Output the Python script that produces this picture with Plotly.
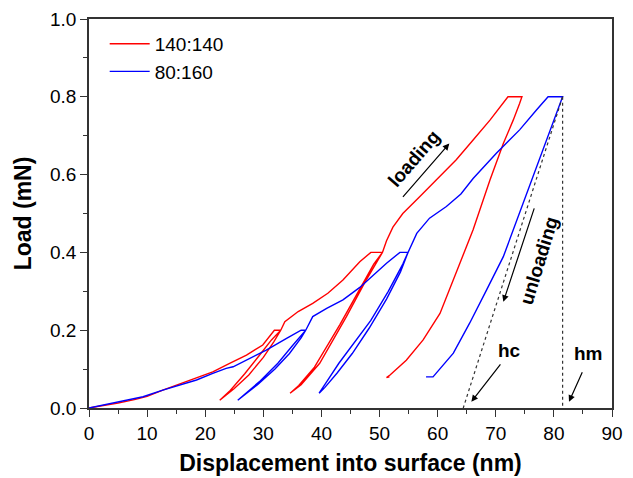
import plotly.graph_objects as go

# ---- data ----
red_name = "140:140"
red_x = [0, 2, 5, 8, 10, 12.7, 15.6, 18.5, 21.3, 24.2, 27.1, 29.9, 31.9,
         33.0, 31.8, 30.0, 27.5, 25.0, 22.5,
         24.3, 26.8, 29.3, 31.4, 33.0,
         33.7, 36.0, 38.5, 41.1, 43.7, 46.6, 48.5,
         50.5, 47.7, 44.3, 39.7, 36.5, 34.6,
         36.1, 38.8, 43.2, 46.6, 49.0, 50.5,
         51.2, 52.3, 54.0, 56.9, 59.8, 63.2, 66.1, 69.0, 72.1,
         74.5, 74.1, 73.0, 71.3, 69.0, 66.1, 63.2, 60.4, 57.5, 54.6, 51.8, 51.2, 51.7]
red_y = [0, 0.005, 0.013, 0.022, 0.03, 0.046, 0.062, 0.076, 0.093, 0.115, 0.136, 0.162, 0.2,
         0.2, 0.17, 0.13, 0.085, 0.05, 0.02,
         0.045, 0.088, 0.135, 0.175, 0.2,
         0.222, 0.248, 0.269, 0.295, 0.329, 0.376, 0.4,
         0.4, 0.329, 0.235, 0.115, 0.06, 0.038,
         0.058, 0.105, 0.215, 0.305, 0.37, 0.4,
         0.43, 0.465, 0.5, 0.543, 0.586, 0.638, 0.689, 0.74, 0.8,
         0.8, 0.783, 0.74, 0.68, 0.586, 0.458, 0.346, 0.243, 0.175, 0.123, 0.085, 0.078, 0.08]

blue_name = "80:160"
blue_x = [0, 2, 4.7, 9.3, 12.7, 15.6, 18.5, 21.3, 23.6, 24.8, 27.1, 30.5, 34.0, 36.5,
          37.3, 36.5, 34.5, 32.0, 29.0, 26.8, 25.6,
          27.0, 29.5, 32.5, 35.0, 36.7, 37.3,
          38.5, 40.9, 43.7, 46.6, 48.3, 51.2, 53.5,
          54.9, 54.0, 51.5, 48.5, 46.0, 43.0, 41.0, 39.6,
          40.6, 42.7, 45.3, 48.2, 51.2, 53.6, 54.9,
          56.4, 58.6, 61.5, 64.0, 66.1, 70.1, 74.1, 77.0, 79.0,
          81.5, 80.0, 78.5, 77.0, 75.5, 74.1, 71.3, 68.4, 65.5, 62.7, 59.2, 58.0]
blue_y = [0, 0.006, 0.016, 0.029, 0.046, 0.059, 0.072, 0.089, 0.102, 0.106, 0.123, 0.149, 0.179, 0.2,
          0.2, 0.18, 0.14, 0.1, 0.06, 0.035, 0.02,
          0.038, 0.07, 0.115, 0.16, 0.19, 0.2,
          0.235, 0.256, 0.278, 0.31, 0.333, 0.372, 0.4,
          0.4, 0.37, 0.3, 0.225, 0.175, 0.115, 0.07, 0.038,
          0.053, 0.09, 0.14, 0.205, 0.28, 0.35, 0.4,
          0.449, 0.488, 0.518, 0.55, 0.59, 0.655, 0.715, 0.766, 0.8,
          0.8, 0.74, 0.68, 0.62, 0.56, 0.5, 0.389, 0.303, 0.218, 0.141, 0.08, 0.08]

tangent_x = [81.5, 64.4]
tangent_y = [0.8, 0.0]
hm_line_x = [81.5, 81.5]
hm_line_y = [0.8, 0.0]

x_ticks = [0, 10, 20, 30, 40, 50, 60, 70, 80, 90]
y_ticks = [0.0, 0.2, 0.4, 0.6, 0.8, 1.0]

FONT = "Liberation Sans, Arial, sans-serif"

fig = go.Figure()
fig.add_trace(go.Scatter(x=red_x, y=red_y, mode="lines", name=red_name,
                         line=dict(color="#ff0000", width=1.4)))
fig.add_trace(go.Scatter(x=blue_x, y=blue_y, mode="lines", name=blue_name,
                         line=dict(color="#0000ff", width=1.4)))
for lx, ly in [(tangent_x, tangent_y), (hm_line_x, hm_line_y)]:
    fig.add_trace(go.Scatter(x=lx, y=ly, mode="lines", showlegend=False,
                             line=dict(color="#333333", width=1.2, dash="dot")))

ann_font = dict(family=FONT, size=19, color="black")
# arrows: (head_x, head_y, tail_x, tail_y)
arrows = [(62.0, 0.680, 53.8, 0.539),
          (71.3, 0.273, 76.7, 0.517),
          (65.8, 0.016, 71.0, 0.116),
          (82.6, 0.016, 85.0, 0.096)]
for hx, hy, tx, ty in arrows:
    fig.add_annotation(x=hx, y=hy, ax=tx, ay=ty, xref="x", yref="y", axref="x", ayref="y",
                       text="", showarrow=True, arrowhead=2, arrowsize=1.1,
                       arrowwidth=1.2, arrowcolor="black")

labels = [("<b>loading</b>", 55.9, 0.642, -49),
          ("<b>unloading</b>", 77.4, 0.38, -73),
          ("<b>hc</b>", 72.4, 0.149, 0),
          ("<b>hm</b>", 85.9, 0.141, 0)]
for t, x, y, a in labels:
    fig.add_annotation(x=x, y=y, xref="x", yref="y", text=t, showarrow=False,
                       textangle=a, font=ann_font)

axis_common = dict(showline=True, linecolor="#333333", linewidth=1.5, mirror=True,
                   ticks="outside", ticklen=7, tickwidth=1.3, tickcolor="#333333",
                   showgrid=False, zeroline=False, automargin=False,
                   tickfont=dict(family=FONT, size=19, color="black"))

fig.update_xaxes(range=[0, 90], tickvals=x_ticks,
                 minor=dict(dtick=5, ticks="outside", ticklen=4, tickwidth=1.2, tickcolor="#333333"),
                 title=dict(text="<b>Displacement into surface (nm)</b>",
                            font=dict(family=FONT, size=23, color="black"), standoff=12),
                 **axis_common)
fig.update_yaxes(range=[0, 1.0], tickvals=y_ticks, tickformat=".1f",
                 minor=dict(dtick=0.1, ticks="outside", ticklen=4, tickwidth=1.2, tickcolor="#333333"),
                 title=dict(text="<b>Load (mN)</b>",
                            font=dict(family=FONT, size=23, color="black"), standoff=12),
                 **axis_common)

fig.update_layout(width=633, height=478, margin=dict(l=89, r=21, t=19, b=70),
                  plot_bgcolor="white", paper_bgcolor="white",
                  legend=dict(x=0.03, y=0.985, xanchor="left", yanchor="top",
                              bgcolor="rgba(0,0,0,0)",
                              font=dict(family=FONT, size=19, color="black"),
                              tracegroupgap=0, itemwidth=40))

fig.write_html("out.html")
